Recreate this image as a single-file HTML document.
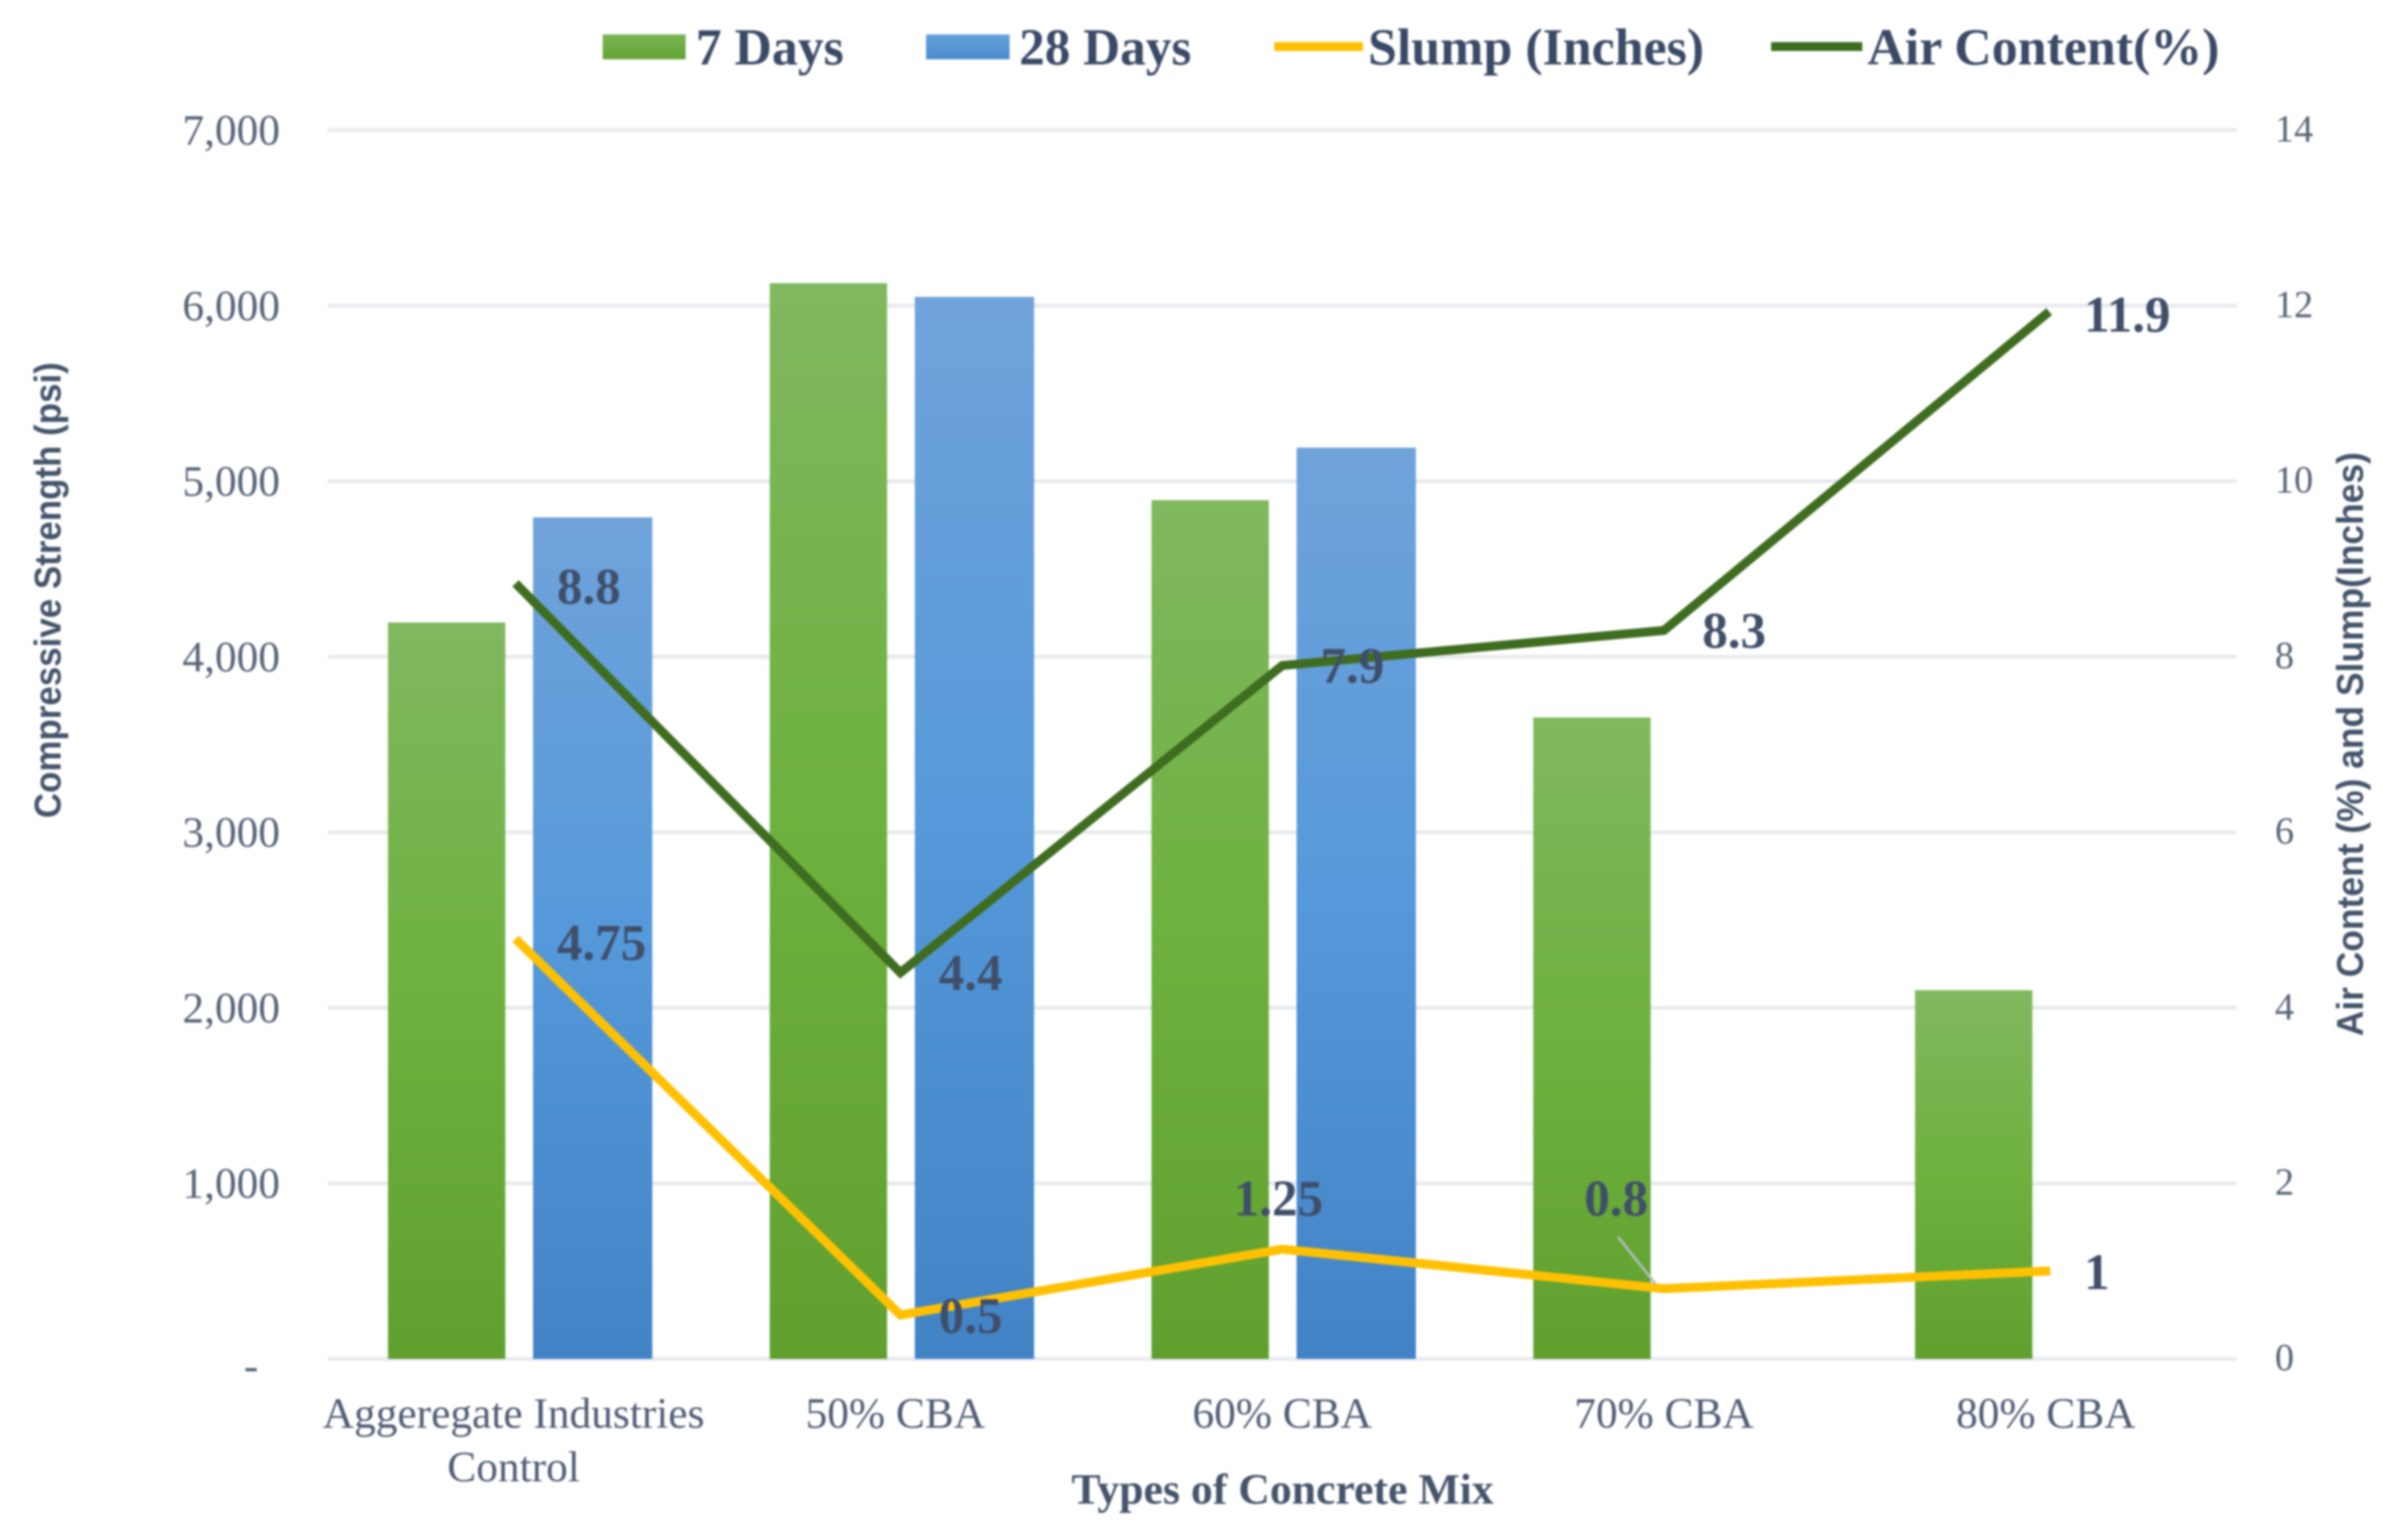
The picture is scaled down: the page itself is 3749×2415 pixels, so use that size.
<!DOCTYPE html>
<html lang="en">
<head>
<meta charset="utf-8">
<title>Compressive Strength, Air Content and Slump by Concrete Mix</title>
<style>
html,body{margin:0;padding:0;background:#fff;}
svg{display:block;filter:blur(1.6px);}
.serif{font-family:"Liberation Serif",serif;}
.sans{font-family:"Liberation Sans",sans-serif;}
</style>
</head>
<body>
<svg id="chart" xmlns="http://www.w3.org/2000/svg" width="3749" height="2415" viewBox="0 0 3749 2415">
  <defs>
    <linearGradient id="green-grad" x1="0" y1="0" x2="0" y2="1">
      <stop offset="0" stop-color="#80b85f"/>
      <stop offset="0.5" stop-color="#6eb13f"/>
      <stop offset="1" stop-color="#60a02f"/>
    </linearGradient>
    <linearGradient id="blue-grad" x1="0" y1="0" x2="0" y2="1">
      <stop offset="0" stop-color="#70a3da"/>
      <stop offset="0.5" stop-color="#5599da"/>
      <stop offset="1" stop-color="#4283c5"/>
    </linearGradient>
    <linearGradient id="legend-green" x1="0" y1="0" x2="0" y2="1">
      <stop offset="0" stop-color="#79b554"/>
      <stop offset="1" stop-color="#62a332"/>
    </linearGradient>
    <linearGradient id="legend-blue" x1="0" y1="0" x2="0" y2="1">
      <stop offset="0" stop-color="#66a0dc"/>
      <stop offset="1" stop-color="#4a8ccd"/>
    </linearGradient>
  </defs>
  <rect x="0" y="0" width="3749" height="2415" fill="#ffffff"/>
  <g id="grid"></g>
  <g id="left-ticks"></g>
  <g id="right-ticks"></g>
  <g id="bars"></g>
  <g id="lines"></g>
  <g id="labels"></g>
  <g id="categories"></g>

  <text class="serif" x="2011" y="2358" text-anchor="middle" font-size="68" font-weight="bold" fill="#44546a" textLength="662" lengthAdjust="spacingAndGlyphs">Types of Concrete Mix</text>
  <text class="sans" transform="translate(95,1283) rotate(-90)" font-size="58" font-weight="bold" fill="#44546a" textLength="715" lengthAdjust="spacingAndGlyphs">Compressive Strength (psi)</text>
  <text class="sans" transform="translate(3705,1625) rotate(-90)" font-size="58" font-weight="bold" fill="#44546a" textLength="916" lengthAdjust="spacingAndGlyphs">Air Content (%) and Slump(Inches)</text>

  <g>
    <g>
      <rect x="945" y="54" width="130" height="39" fill="url(#legend-green)"/>
      <text class="serif" x="1091" y="101" font-size="82" font-weight="bold" fill="#3a4a66" textLength="232" lengthAdjust="spacingAndGlyphs">7 Days</text>
    </g>
    <g>
      <rect x="1452" y="54" width="131" height="39" fill="url(#legend-blue)"/>
      <text class="serif" x="1598" y="101" font-size="82" font-weight="bold" fill="#3a4a66" textLength="270" lengthAdjust="spacingAndGlyphs">28 Days</text>
    </g>
    <g>
      <line x1="1998" y1="73" x2="2137" y2="73" stroke="#ffc000" stroke-width="14"/>
      <text class="serif" x="2145" y="101" font-size="82" font-weight="bold" fill="#3a4a66" textLength="527" lengthAdjust="spacingAndGlyphs">Slump (Inches)</text>
    </g>
    <g>
      <line x1="2777" y1="73" x2="2920" y2="73" stroke="#3f6d20" stroke-width="14"/>
      <text class="serif" x="2928" y="101" font-size="82" font-weight="bold" fill="#3a4a66" textLength="552" lengthAdjust="spacingAndGlyphs">Air Content(%)</text>
    </g>
  </g>
</svg>

<script>
// ---- chart data ----
const categories = ["Aggeregate Industries|Control", "50% CBA", "60% CBA", "70% CBA", "80% CBA"];
const days7 = [4195, 6128, 4892, 3654, 2100];
const days28 = [4794, 6050, 5191, null, null];
const slump = [4.75, 0.5, 1.25, 0.8, 1];
const airContent = [8.8, 4.4, 7.9, 8.3, 11.9];
const slumpLabels = ["4.75", "0.5", "1.25", "0.8", "1"];
const airLabels = ["8.8", "4.4", "7.9", "8.3", "11.9"];
const slumpPlacement = ["right", "right", "above", "leader", "right"];
const leftTickValues = [0, 1000, 2000, 3000, 4000, 5000, 6000, 7000];
const leftTickLabels = ["-\u00a0\u00a0", "1,000", "2,000", "3,000", "4,000", "5,000", "6,000", "7,000"];
const rightTickValues = [0, 2, 4, 6, 8, 10, 12, 14];
const rightTickLabels = ["0", "2", "4", "6", "8", "10", "12", "14"];

// ---- axis functions ----
const NS = "http://www.w3.org/2000/svg";
const plotLeft = 514, plotRight = 3507, plotTop = 204, plotBottom = 2131;
const leftMax = 7000, rightMax = 14;
const bandWidth = (plotRight - plotLeft) / categories.length;
function xCenter(i) { return plotLeft + bandWidth * (i + 0.5); }
function yLeft(v) { return plotBottom - (v / leftMax) * (plotBottom - plotTop); }
function yRight(v) { return plotBottom - (v / rightMax) * (plotBottom - plotTop); }
const barWidth = 184, barOffset = 114;

function make(tag, attrs, parent, text) {
  const el = document.createElementNS(NS, tag);
  for (const k in attrs) el.setAttribute(k, attrs[k]);
  if (text !== undefined) el.textContent = text;
  parent.appendChild(el);
  return el;
}

// gridlines and ticks
const gridG = document.getElementById("grid");
const leftG = document.getElementById("left-ticks");
const rightG = document.getElementById("right-ticks");
leftTickValues.forEach(function (v, i) {
  const line = make("line", { x1: plotLeft, x2: plotRight, y1: yLeft(v), y2: yLeft(v), stroke: "#e8eaef", "stroke-width": 6 }, gridG);
  
  
  const t = make("text", { x: 439, y: yLeft(v) + (v === 0 ? 33 : 23), "text-anchor": "end", "font-size": 68, fill: "#566377", "class": "serif" }, leftG, leftTickLabels[i]);
  
  
});
rightTickValues.forEach(function (v, i) {
  const t = make("text", { x: 3567, y: yRight(v) + 18, "font-size": 60, fill: "#566377", "class": "serif" }, rightG, rightTickLabels[i]);
  
  
});

// bars
const barsG = document.getElementById("bars");
function drawBars(values, offset, width, fill, name) {
  values.forEach(function (v, i) {
    if (v === null) return;
    const r = make("rect", { x: xCenter(i) + offset - width / 2, y: yLeft(v), width: width, height: plotBottom - yLeft(v), fill: fill }, barsG);
    
    
  });
}
drawBars(days7, -barOffset + 1, barWidth, "url(#green-grad)", "bar-7-days");
drawBars(days28, barOffset + 2, barWidth + 3, "url(#blue-grad)", "bar-28-days");

// lines
const linesG = document.getElementById("lines");
function drawLine(values, color, name) {
  const pts = values.map(function (v, i) { return xCenter(i) + "," + yRight(v); }).join(" ");
  const p = make("polyline", { points: pts, fill: "none", stroke: color, "stroke-width": 14, "stroke-linejoin": "miter", "stroke-linecap": "square" }, linesG);
  
  
}
drawLine(airContent, "#3f6d20", "air-content-line");
drawLine(slump, "#ffc000", "slump-line");

// data labels
const labelsG = document.getElementById("labels");
const labelStyle = { "font-size": 80, "font-weight": "bold", fill: "#3f4e69", "class": "serif" };
function drawLabel(x, y, anchor, text, name) {
  const attrs = Object.assign({ x: x, y: y, "text-anchor": anchor }, labelStyle);
  const t = make("text", attrs, labelsG, text);
  
  
}
airLabels.forEach(function (s, i) {
  drawLabel(xCenter(i) + 60, yRight(airContent[i]) + 27, "start", s, "air-content-label");
});
slumpLabels.forEach(function (s, i) {
  const px = xCenter(i), py = yRight(slump[i]);
  if (slumpPlacement[i] === "right") {
    drawLabel(px + 60, py + 28, "start", s, "slump-label");
  } else if (slumpPlacement[i] === "above") {
    drawLabel(px - 6, py - 53, "middle", s, "slump-label");
  } else {
    drawLabel(px - 75, py - 115, "middle", s, "slump-label");
    const l = make("line", { x1: px - 72, y1: py - 81, x2: px - 13, y2: py - 7, stroke: "#b5bcc4", "stroke-width": 4 }, labelsG);
    
    
  }
});

// category labels
const catG = document.getElementById("categories");
categories.forEach(function (c, i) {
  const cx = xCenter(i) - (i < 2 ? 8 : 0);
  c.split("|").forEach(function (part, j) {
    const t = make("text", { x: cx, y: 2239 + j * 84, "text-anchor": "middle", "font-size": 68, fill: "#4f5c74", "class": "serif" }, catG, part);
    
    
  });
});
</script>
</body>
</html>
